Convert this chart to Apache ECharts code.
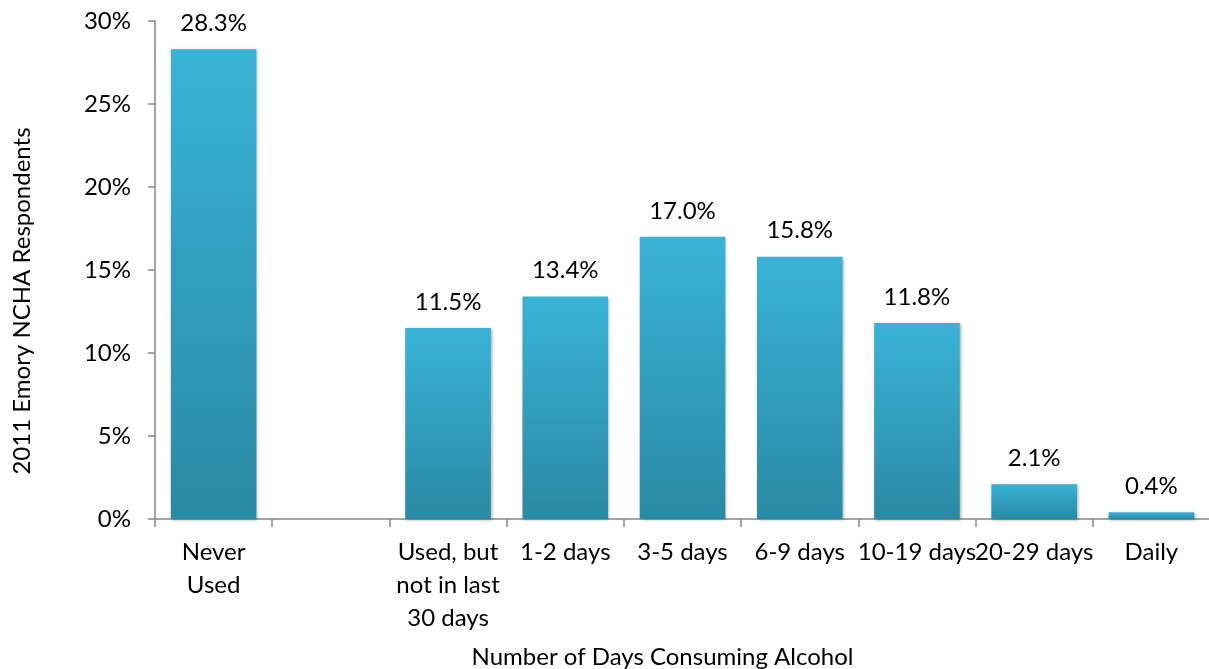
<!DOCTYPE html>
<html><head><meta charset="utf-8">
<script src="https://cdn.jsdelivr.net/npm/echarts@6/dist/echarts.min.js"></script>
<style>html,body{margin:0;padding:0;background:#fff}#c{width:1209px;height:669px}</style>
</head><body><div id="c"></div>
<script>
const categories = ['Never\nUsed', '', 'Used, but\nnot in last\n30 days', '1-2 days', '3-5 days', '6-9 days', '10-19 days', '20-29 days', 'Daily'];
const values = [28.3, null, 11.5, 13.4, 17.0, 15.8, 11.8, 2.1, 0.4];
const yTicks = [0, 5, 10, 15, 20, 25, 30];

const font = 'Lato, "Open Sans", sans-serif';
const fs = 24;
const chart = echarts.init(document.getElementById('c'));
chart.setOption({
  animation: false,
  grid: {left: 155, right: -1, top: 21, bottom: 150, containLabel: false, outerBoundsMode: 'none'},
  xAxis: {
    type: 'category', data: categories,
    axisLine: {lineStyle: {color: '#868686', width: 1.5}},
    axisTick: {show: true, length: 8, alignWithLabel: false, lineStyle: {color: '#868686', width: 1.5}},
    axisLabel: {interval: 0, color: '#000', fontSize: fs, fontFamily: font, lineHeight: 33, margin: 17},
    name: 'Number of Days Consuming Alcohol', nameLocation: 'middle', nameGap: 126,
    nameTextStyle: {color: '#000', fontSize: fs, fontFamily: font, padding: [0, 40, 0, 0]}
  },
  yAxis: {
    type: 'value', min: yTicks[0], max: yTicks[yTicks.length - 1], interval: 5,
    axisLine: {show: true, lineStyle: {color: '#868686', width: 1.5}},
    axisTick: {show: true, length: 7, lineStyle: {color: '#868686', width: 1.5}},
    splitLine: {show: false},
    axisLabel: {color: '#000', fontSize: fs, fontFamily: font, margin: 24, formatter: v => v + '%'},
    name: '2011 Emory NCHA Respondents', nameLocation: 'middle', nameGap: 121, nameRotate: 90,
    nameTextStyle: {color: '#000', fontSize: fs, fontFamily: font, padding: [0, 0, 0, -62]}
  },
  series: [{
    type: 'bar', data: values, barWidth: '73%',
    itemStyle: {
      color: new echarts.graphic.LinearGradient(0, 0, 0, 1, [
        {offset: 0, color: '#39b3d7'}, {offset: 1, color: '#2a89a3'}
      ]),
      shadowColor: 'rgba(0,0,0,0.35)', shadowBlur: 3, shadowOffsetX: 1, shadowOffsetY: 1
    },
    label: {show: true, position: 'top', distance: 14, color: '#000', fontSize: fs, fontFamily: font,
      formatter: p => p.value.toFixed(1) + '%'}
  }]
});
</script></body></html>
